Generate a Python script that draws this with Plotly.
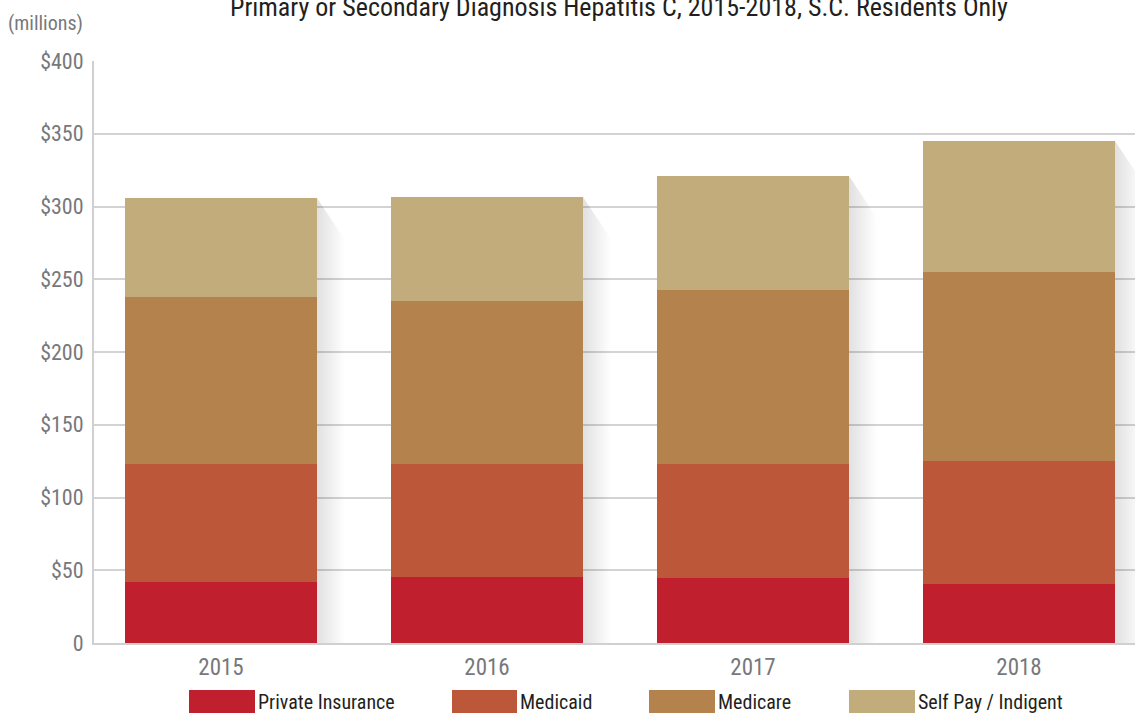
import plotly.graph_objects as go

# Hospital charges by payer, in millions of dollars
years = ["2015", "2016", "2017", "2018"]
private_insurance = [42.1, 45.5, 44.9, 40.7]
medicaid = [81.1, 77.7, 78.3, 84.5]
medicare = [114.7, 111.9, 119.5, 129.8]
self_pay = [68.0, 71.5, 78.3, 90.0]

series_names = ["Private Insurance", "Medicaid", "Medicare", "Self Pay / Indigent"]
series_values = [private_insurance, medicaid, medicare, self_pay]
series_colors = ["#C01F2E", "#BC573A", "#B3824D", "#C3AC7B"]

y_tick_vals = [0, 50, 100, 150, 200, 250, 300, 350, 400]
y_tick_text = ["0", "$50", "$100", "$150", "$200", "$250", "$300", "$350", "$400"]

title_text = "Primary or Secondary Diagnosis Hepatitis C, 2015-2018, S.C. Residents Only"
unit_text = "(millions)"

W, H = 1135, 713
ML, MR, MT, MB = 94, 0, 61, 70
PW, PH = W - ML - MR, H - MT - MB

FONT = "Liberation Sans Narrow, Roboto Condensed, DejaVu Sans Condensed, Arial Narrow, sans-serif"
BAR_W = 0.722
X_RANGE = [-0.4774, 3.4361]
Y_RANGE = [0, 400]


def px_x(p):
    return (p - ML) / PW


def px_y(p):
    return (H - MB - p) / PH


xs = list(range(len(years)))
fig = go.Figure()

# drop shadows to the right of each stacked column
totals = [sum(v[i] for v in series_values) for i in range(len(years))]
dx = 28 / PW * (X_RANGE[1] - X_RANGE[0])
dy = 42 / PH * (Y_RANGE[1] - Y_RANGE[0])
for x, t in zip(xs, totals):
    xr = x + BAR_W / 2
    fig.add_trace(go.Scatter(
        x=[xr, xr + dx, xr + dx, xr, xr],
        y=[t, t - dy, 0, 0, t],
        mode="lines", line=dict(width=0), fill="toself",
        fillgradient=dict(type="horizontal",
                          colorscale=[[0, "rgba(0,0,0,0.12)"], [1, "rgba(0,0,0,0)"]]),
        hoverinfo="skip", showlegend=False,
    ))

for name, vals, col in zip(series_names, series_values, series_colors):
    fig.add_trace(go.Bar(
        x=xs, y=vals, name=name, width=BAR_W,
        marker=dict(color=col, line=dict(width=0)),
        showlegend=False,
    ))

# legend drawn as large swatches with labels
legend_swatch_x = [(189, 255), (452, 517), (649, 715), (849, 915)]
shapes = []
annotations = []
for (x0, x1), name, col in zip(legend_swatch_x, series_names, series_colors):
    shapes.append(dict(type="rect", xref="paper", yref="paper",
                       x0=px_x(x0), x1=px_x(x1), y0=px_y(720), y1=px_y(690),
                       fillcolor=col, line=dict(width=0), layer="above"))
    annotations.append(dict(text=name, xref="paper", yref="paper",
                            x=px_x(x1 + 1), y=px_y(702), xanchor="left", yanchor="middle",
                            showarrow=False, font=dict(family=FONT, size=20, color="#231F20")))

annotations.append(dict(text=title_text, xref="paper", yref="paper",
                        x=px_x(619), y=px_y(7), xanchor="center", yanchor="middle",
                        showarrow=False, font=dict(family=FONT, size=26, color="#231F20")))
annotations.append(dict(text=unit_text, xref="paper", yref="paper",
                        x=px_x(85), y=px_y(23), xanchor="right", yanchor="middle",
                        showarrow=False, font=dict(family=FONT, size=20, color="#77787B")))

fig.update_layout(
    width=W, height=H,
    margin=dict(l=ML, r=MR, t=MT, b=MB, pad=0),
    barmode="stack",
    plot_bgcolor="white", paper_bgcolor="white",
    shapes=shapes, annotations=annotations,
    showlegend=False,
)
fig.update_xaxes(
    range=X_RANGE, tickvals=xs, ticktext=years,
    showgrid=False, zeroline=False, showline=True, linecolor="#D0D0D0", linewidth=2,
    ticks="", ticklabelstandoff=2,
    tickfont=dict(family=FONT, size=23, color="#77787B"),
)
fig.update_yaxes(
    range=Y_RANGE, tickvals=y_tick_vals, ticktext=y_tick_text,
    showgrid=True, gridcolor="#D3D3D3", gridwidth=1.5,
    zeroline=False, showline=True, linecolor="#D0D0D0", linewidth=2,
    ticks="", ticklabelstandoff=4,
    tickfont=dict(family=FONT, size=22, color="#77787B"),
)

fig.write_html("out.html")
